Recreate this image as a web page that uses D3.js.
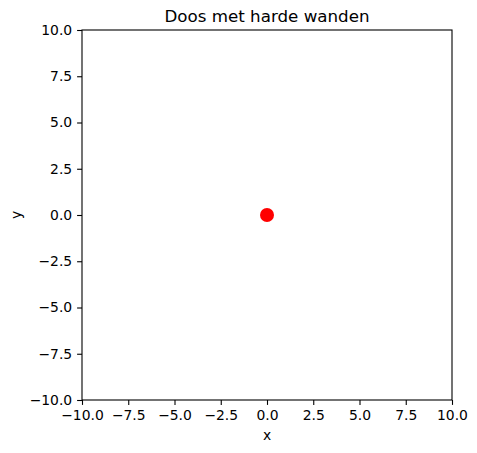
<!DOCTYPE html>
<html>
<head>
<meta charset="utf-8">
<script src="https://cdn.jsdelivr.net/npm/d3@7"></script>
<style>
  body { margin: 0; background: #fff; }
  text { font-family: "DejaVu Sans", sans-serif; }
</style>
</head>
<body>
<svg></svg>
<script>
  var width = 477;
  var height = 453;

  // data
  var xDomain = [-10, 10];
  var yDomain = [-10, 10];
  var ticks = [-10, -7.5, -5, -2.5, 0, 2.5, 5, 7.5, 10];
  var particles = [{ x: 0, y: 0 }];

  var margin = { left: 82, top: 30, right: 25, bottom: 53 };

  var svg = d3.select('svg')
    .attr('width', width)
    .attr('height', height);

  var x = d3.scaleLinear().domain(xDomain).range([margin.left, width - margin.right]);
  var y = d3.scaleLinear().domain(yDomain).range([height - margin.bottom, margin.top]);

  var fmt = function (d) { return d3.format('.1f')(d).replace('-', '\u2212'); };

  var xAxis = svg.append('g')
    .attr('transform', 'translate(0,' + (height - margin.bottom) + ')')
    .call(d3.axisBottom(x).tickValues(ticks).tickFormat(fmt).tickSize(4.9).tickPadding(4.9));
  var yAxis = svg.append('g')
    .attr('transform', 'translate(' + margin.left + ',0)')
    .call(d3.axisLeft(y).tickValues(ticks).tickFormat(fmt).tickSize(4.9).tickPadding(4.9));

  [xAxis, yAxis].forEach(function (a) {
    a.selectAll('.domain').remove();
    a.selectAll('text').attr('font-size', 13.9).attr('fill', '#000').style('font-family', '"DejaVu Sans", sans-serif');
    a.selectAll('line').attr('stroke', '#000').attr('stroke-width', 1.1);
  });

  // frame
  svg.append('rect')
    .attr('x', margin.left)
    .attr('y', margin.top)
    .attr('width', width - margin.left - margin.right)
    .attr('height', height - margin.top - margin.bottom)
    .attr('fill', 'none')
    .attr('stroke', '#000')
    .attr('stroke-width', 1.1);

  // particle
  svg.selectAll('circle')
    .data(particles)
    .enter()
    .append('circle')
    .attr('cx', function (d) { return x(d.x); })
    .attr('cy', function (d) { return y(d.y); })
    .attr('r', 7)
    .attr('fill', 'red');

  svg.append('text')
    .attr('x', (margin.left + width - margin.right) / 2)
    .attr('y', 22)
    .attr('text-anchor', 'middle')
    .attr('font-size', 16.7)
    .text('Doos met harde wanden');

  svg.append('text')
    .attr('x', (margin.left + width - margin.right) / 2)
    .attr('y', 440)
    .attr('text-anchor', 'middle')
    .attr('font-size', 13.9)
    .text('x');

  svg.append('text')
    .attr('transform', 'translate(21,' + ((margin.top + height - margin.bottom) / 2) + ') rotate(-90)')
    .attr('text-anchor', 'middle')
    .attr('font-size', 13.9)
    .text('y');
</script>
</body>
</html>
